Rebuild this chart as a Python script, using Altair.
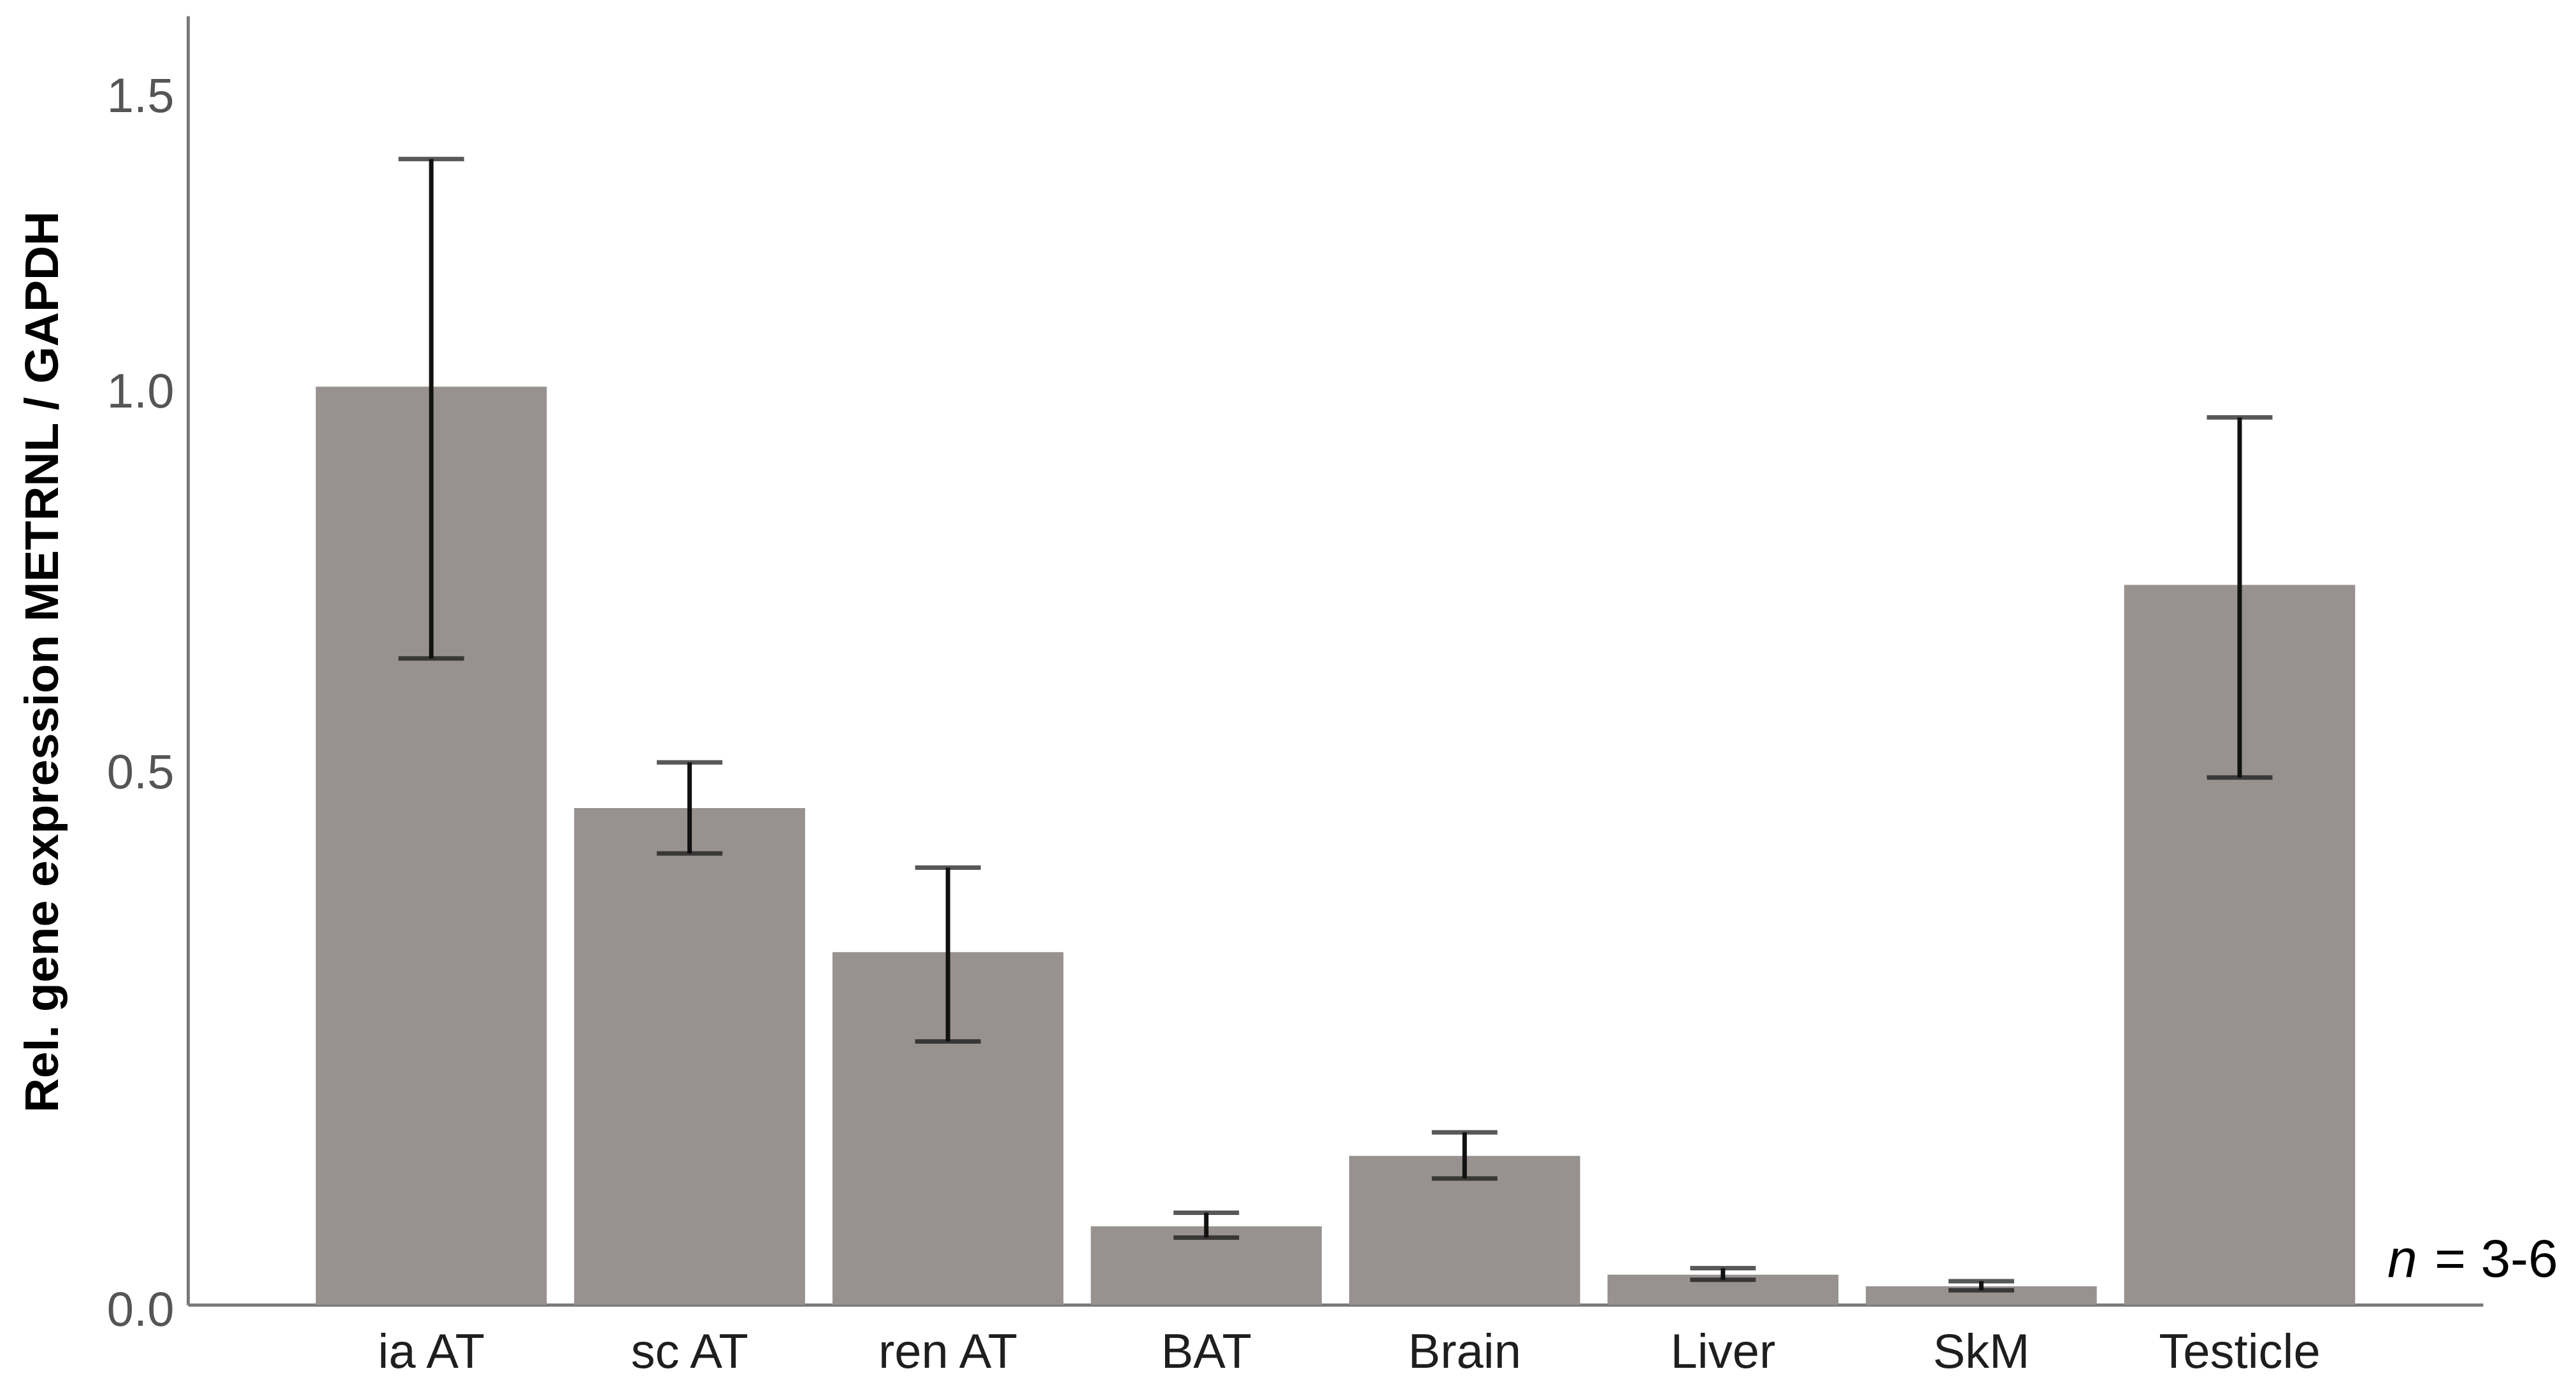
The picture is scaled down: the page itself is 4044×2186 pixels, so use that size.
import altair as alt
import pandas as pd

FONT = "Liberation Sans"

tissues = ["ia AT", "sc AT", "ren AT", "BAT", "Brain", "Liver", "SkM", "Testicle"]
means = [1.000, 0.455, 0.305, 0.061, 0.119, 0.023, 0.014, 0.722]
lower = [0.629, 0.406, 0.220, 0.052, 0.100, 0.019, 0.011, 0.489]
upper = [1.375, 0.506, 0.391, 0.072, 0.139, 0.028, 0.018, 0.954]
y_ticks = [0.0, 0.5, 1.0, 1.5]
y_title = "Rel. gene expression METRNL / GAPDH"
note_italic = ["n"]
note_rest = ["= 3-6"]

df = pd.DataFrame({"tissue": tissues, "mean": means, "lo": lower, "hi": upper})

W, H = 3603, 2024
BAR_COLOR = "#979290"
ERR_COLOR = "#111111"

x_enc = alt.X(
    "tissue:N",
    sort=tissues,
    scale=alt.Scale(paddingInner=0.106, paddingOuter=0.495),
    axis=alt.Axis(
        title=None, labelAngle=0, ticks=False, tickSize=0, labelPadding=38,
        labelFontSize=76, labelFont=FONT, labelColor="#1e1e1e", labelLimit=0,
        domainColor="#7a7a7a", domainWidth=5,
    ),
)

y_scale = alt.Scale(type="symlog", constant=1, domain=[0, 1.646], nice=False)
y_axis = alt.Axis(
    values=y_ticks, format=".1f", grid=False, ticks=False, tickSize=0,
    labelFontSize=76, labelFont=FONT, labelColor="#555555", labelPadding=22,
    labelBaseline="middle", labelOffset=9, labelLimit=0,
    domainColor="#7a7a7a", domainWidth=5,
    title=y_title, titleFont=FONT, titleFontSize=75, titleFontWeight="bold",
    titleColor="#000000", titleAngle=270, titleX=-205, titleY=1014,
    titleAlign="center", titleBaseline="alphabetic", titleLimit=0,
)

base = alt.Chart(df)

bars = base.mark_bar(color=BAR_COLOR).encode(
    x=x_enc, y=alt.Y("mean:Q", scale=y_scale, axis=y_axis)
)
rule = base.mark_rule(color=ERR_COLOR, strokeWidth=7).encode(
    x=x_enc, y=alt.Y("lo:Q", scale=y_scale, axis=y_axis), y2="hi:Q"
)
cap_hi = base.mark_tick(color=ERR_COLOR, size=103, thickness=7).encode(
    x=x_enc, y=alt.Y("hi:Q", scale=y_scale, axis=y_axis)
)
cap_lo = base.mark_tick(color=ERR_COLOR, size=103, thickness=7).encode(
    x=x_enc, y=alt.Y("lo:Q", scale=y_scale, axis=y_axis)
)

note1 = alt.Chart(pd.DataFrame({"t": note_italic})).mark_text(
    font=FONT, fontSize=84, fontStyle="italic", color="#000000",
    align="left", baseline="alphabetic",
).encode(x=alt.value(3453), y=alt.value(1980), text="t:N")
note2 = alt.Chart(pd.DataFrame({"t": note_rest})).mark_text(
    font=FONT, fontSize=84, color="#000000",
    align="left", baseline="alphabetic",
).encode(x=alt.value(3527), y=alt.value(1980), text="t:N")

chart = alt.layer(bars, rule, cap_hi, cap_lo, note1, note2).properties(
    width=W, height=H,
    autosize=alt.AutoSizeParams(type="none"),
    padding={"left": 287, "top": 17, "right": 130, "bottom": 120},
    background="white",
).configure_view(stroke=None)

chart.save("out.html", embed_options={"renderer": "svg", "actions": False})
